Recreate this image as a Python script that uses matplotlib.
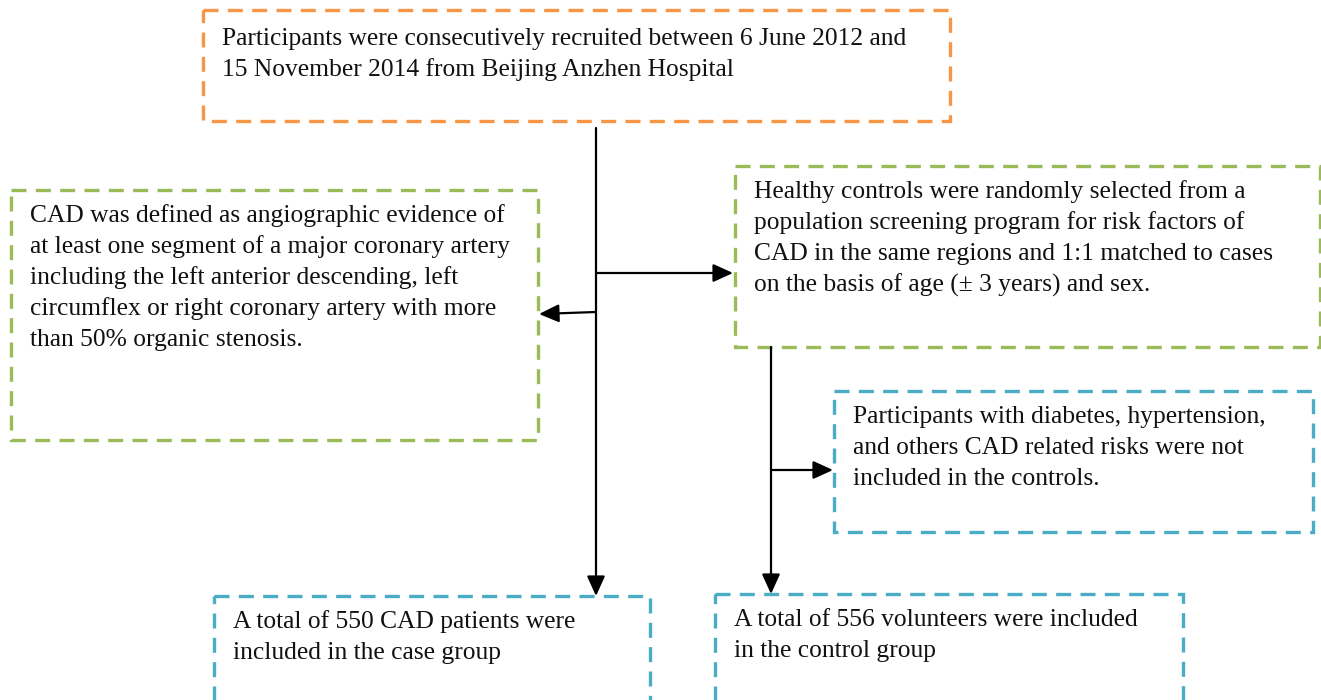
import matplotlib.pyplot as plt
from matplotlib.patches import Rectangle

# box texts (one entry per line)
recruit_text = ["Participants were consecutively recruited between 6 June 2012 and",
                "15 November 2014 from Beijing Anzhen Hospital"]
cad_text = ["CAD was defined as angiographic evidence of",
            "at least one segment of a major coronary artery",
            "including the left anterior descending, left",
            "circumflex or right coronary artery with more",
            "than 50% organic stenosis."]
control_text = ["Healthy controls were randomly selected from a",
                "population screening program for risk factors of",
                "CAD in the same regions and 1:1 matched to cases",
                "on the basis of age (\u00b1 3 years) and sex."]
exclude_text = ["Participants with diabetes, hypertension,",
                "and others CAD related risks were not",
                "included in the controls."]
case_text = ["A total of 550 CAD patients were",
             "included in the case group"]
volunteer_text = ["A total of 556 volunteers were included",
                  "in the control group"]

orange = "#F79646"
green = "#9BBB59"
blue = "#4BACC6"

fig = plt.figure(figsize=(13.21, 7.0), dpi=100)
ax = fig.add_axes([0, 0, 1, 1])
ax.set_xlim(0, 1321)
ax.set_ylim(700, 0)
ax.axis("off")


def box(x0, y0, x1, y1, color, lines, ty):
    r = Rectangle((x0, y0), x1 - x0, y1 - y0, fill=False, edgecolor=color,
                  linewidth=2.4, linestyle=(0, (4.5, 2.8)), clip_on=False)
    ax.add_patch(r)
    for i, s in enumerate(lines):
        ax.text(x0 + 19, ty + i * 31, s, fontsize=18.4, family="Liberation Serif",
                va="center", ha="left", color="#111111")


box(203, 10, 950, 121, orange, recruit_text, 39)
box(11, 190, 538, 440, green, cad_text, 216)
box(735, 166, 1320, 347, green, control_text, 192)
box(834, 391, 1313, 532, blue, exclude_text, 417)
box(214, 596, 650, 712, blue, case_text, 622)
box(715, 594, 1183, 712, blue, volunteer_text, 620)

aprops = dict(arrowstyle="-|>,head_length=0.55,head_width=0.25", color="black",
              lw=1.6, mutation_scale=22, shrinkA=0, shrinkB=0)

# main trunk
ax.annotate("", xy=(596, 596), xytext=(596, 128), arrowprops=aprops)
ax.annotate("", xy=(733, 273), xytext=(596, 273), arrowprops=aprops)
ax.annotate("", xy=(539, 314), xytext=(596, 312), arrowprops=aprops)
# control trunk
ax.annotate("", xy=(771, 594), xytext=(771, 347), arrowprops=aprops)
ax.annotate("", xy=(833, 470), xytext=(771, 470), arrowprops=aprops)

fig.savefig("out.png", dpi=100)
